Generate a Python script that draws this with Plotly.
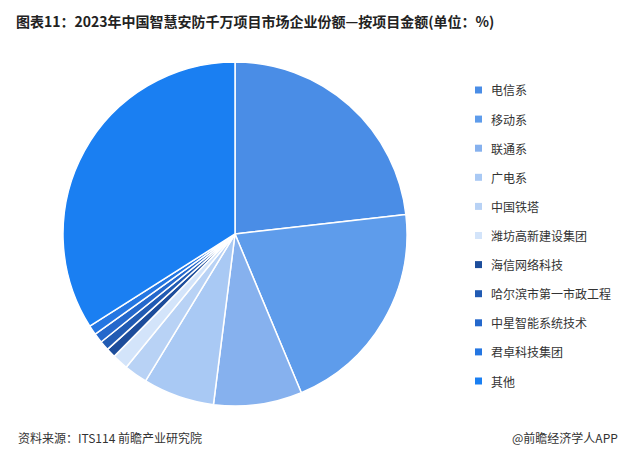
import plotly.graph_objects as go

labels = ['电信系', '移动系', '联通系', '广电系', '中国铁塔', '潍坊高新建设集团',
          '海信网络科技', '哈尔滨市第一市政工程', '中星智能系统技术', '君卓科技集团', '其他']
values = [23.2, 20.5, 8.3, 6.7, 2.2, 1.5, 0.9, 0.9, 0.9, 0.9, 34.0]
colors = ['#4a8de6', '#5e9ceb', '#86b1ee', '#a9c9f4', '#b8d2f5', '#d3e4fa',
          '#1d4d9b', '#215bb3', '#2468cc', '#2476e2', '#1a7ff2']

W, H = 632, 458

fig = go.Figure(go.Pie(
    labels=labels, values=values, sort=False, direction='clockwise', rotation=0,
    marker=dict(colors=colors, line=dict(color='white', width=1.5)),
    textinfo='none', hoverinfo='label+percent', showlegend=False,
    domain=dict(x=[55 / W, 399 / W], y=[1 - 398 / H, 1 - 54 / H]),
))

# hand-drawn legend to match the wide row spacing
shapes, annotations = [], []
for i, (lab, col) in enumerate(zip(labels, colors)):
    yc = 82 + i * 29.1
    shapes.append(dict(type='rect', xref='paper', yref='paper',
                       x0=467 / W, x1=474 / W, y0=1 - (yc + 3.5) / H, y1=1 - (yc - 3.5) / H,
                       fillcolor=col, line=dict(width=0)))
    annotations.append(dict(text=lab, x=481 / W, y=1 - yc / H, xref='paper', yref='paper',
                            xanchor='left', yanchor='middle', showarrow=False,
                            font=dict(size=12, color='#333')))

annotations += [
    dict(text='资料来源：ITS114 前瞻产业研究院', x=8 / W, y=1 - 429 / H, xref='paper', yref='paper',
         xanchor='left', yanchor='middle', showarrow=False, font=dict(size=12, color='#333')),
    dict(text='@前瞻经济学人APP', x=612 / W, y=1 - 429 / H, xref='paper', yref='paper',
         xanchor='right', yanchor='middle', showarrow=False, font=dict(size=12, color='#333')),
]

fig.update_layout(
    width=W, height=H, paper_bgcolor='white', plot_bgcolor='white',
    margin=dict(l=0, r=0, t=0, b=0),
    font=dict(family='Noto Sans CJK SC', color='#333'),
    title=dict(text='<b>图表11：2023年中国智慧安防千万项目市场企业份额—按项目金额(单位：%)</b>',
               x=8 / W, xanchor='left', y=1 - 14 / H, yanchor='middle',
               font=dict(size=14, color='#222')),
    shapes=shapes, annotations=annotations,
)
fig.write_html("out.html")
